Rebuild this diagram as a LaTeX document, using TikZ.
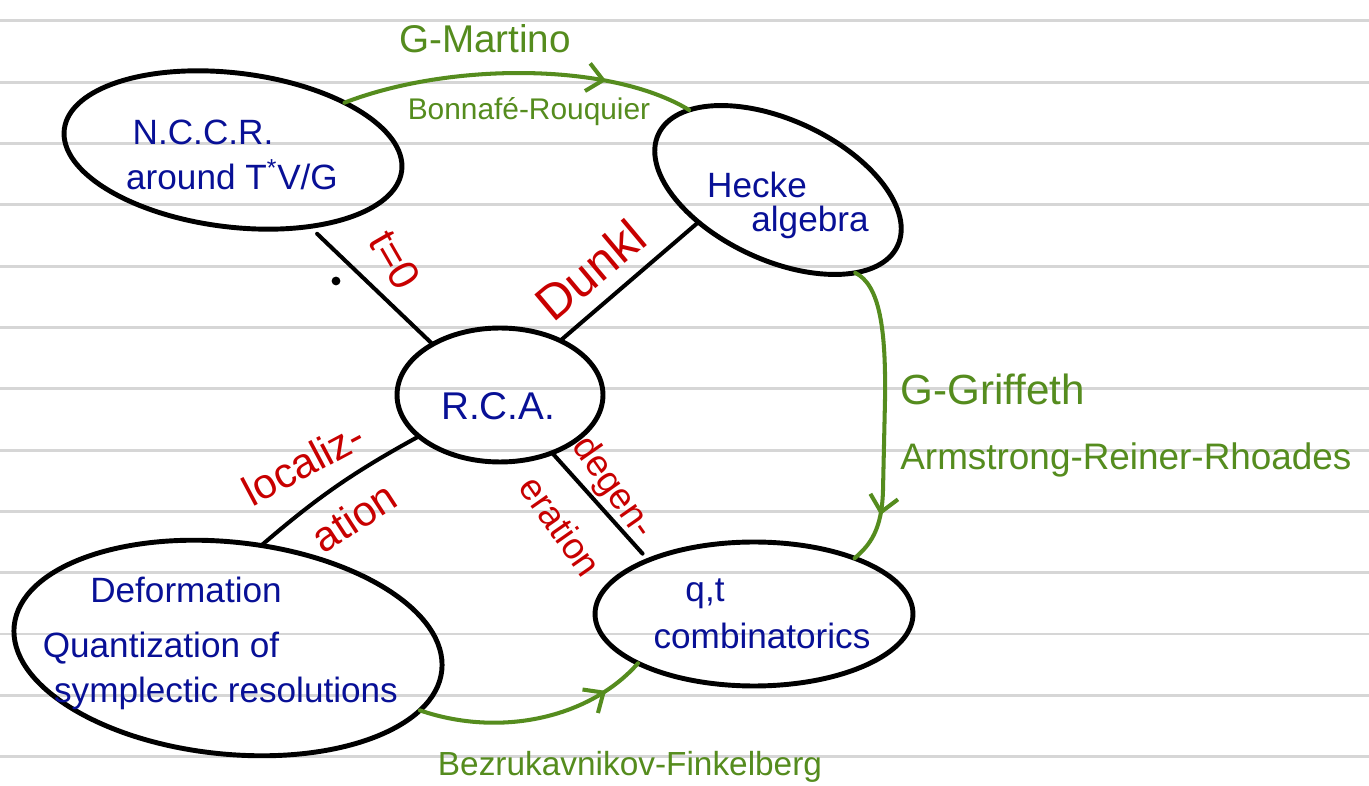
\documentclass[tikz,border=0pt]{standalone}
\usepackage{fontspec}
\setmainfont{Liberation Sans}
\usetikzlibrary{shapes.geometric,arrows.meta,decorations.markings}
\definecolor{ink}{RGB}{8,16,150}
\definecolor{redink}{RGB}{200,0,0}
\definecolor{greenink}{RGB}{85,140,30}
\definecolor{rulegray}{RGB}{214,214,214}
\begin{document}
\begin{tikzpicture}[x=0.02cm,y=-0.02cm,
  blob/.style={ellipse, draw=black, line width=2.8pt, inner sep=0pt, outer sep=0pt},
  bluet/.style={text=ink, font=\fontsize{20}{22}\selectfont, anchor=base, inner sep=0pt},
  greent/.style={text=greenink, font=\fontsize{20}{22}\selectfont, anchor=base, inner sep=0pt},
  redt/.style={text=redink, font=\fontsize{24}{26}\selectfont, inner sep=0pt},
  conn/.style={draw=black, line width=2.3pt, line cap=round},
  gconn/.style={draw=greenink, line width=2.3pt, line cap=round},
  midarrow/.style={postaction={decorate}, decoration={markings, mark=at position #1 with {\arrow{Straight Barb[length=9pt, width=16pt, line width=2.3pt, color=greenink]}}}},
]
\fill[white] (0,0) rectangle (1369,786);
\useasboundingbox (0,0) rectangle (1369,786);
\foreach \k in {0,...,12} \draw[rulegray, line width=1.7pt] (0,{21+61.3*\k}) -- (1369,{21+61.3*\k});

% ellipses
\node[blob, minimum width=6.8cm, minimum height=3.08cm, rotate=-7] (nccr) at (233,150) {};
\node[blob, minimum width=5.28cm, minimum height=2.8cm, rotate=-25] (hecke) at (778,190) {};
\node[blob, minimum width=4.12cm, minimum height=2.68cm] (rca) at (500,395) {};
\node[blob, minimum width=8.6cm, minimum height=4.24cm, rotate=-6] (def) at (228,648) {};
\node[blob, minimum width=6.36cm, minimum height=2.88cm] (qt) at (754,614) {};

% texts in ellipses
\node[bluet] (nccrA) at (203,145) {N.C.C.R.};
\node[bluet] (nccrB) at (232,190) {around T\textsuperscript{*}V/G};
\node[bluet] (heckeA) at (757,198) {Hecke};
\node[bluet] (heckeB) at (810,232) {algebra};
\node[bluet, font=\fontsize{22}{24}\selectfont] (rcaT) at (498,420) {R.C.A.};
\node[bluet] (defA) at (186,603) {Deformation};
\node[bluet] (defB) at (161,658) {Quantization of};
\node[bluet] (defC) at (226,703) {symplectic resolutions};
\node[bluet] (qtA) at (705,602) {q,t};
\node[bluet] (qtB) at (762,648) {combinatorics};

% black connectors
\draw[conn, shorten <=6pt] (nccr.-38) -- (rca.143);
\draw[conn] (hecke.-133) -- (rca.42);
\draw[conn] (rca.207) to[bend right=6] (def.78);
\draw[conn, shorten >=5pt] (rca.-48) -- (qt.153);
\fill (336,281) circle (2.5pt);

% red labels
\node[redt, rotate=-60] (t0) at (395,260) {t=0};
\node[redt, rotate=40, font=\fontsize{28}{30}\selectfont] (dunkl) at (590,270) {Dunkl};
\node[redt, rotate=28] (locA) at (303,463) {localiz-};
\node[redt, rotate=33] (locB) at (354,517) {ation};
\node[redt, rotate=-55, font=\fontsize{21}{23}\selectfont] (degA) at (612,488) {degen-};
\node[redt, rotate=-55, font=\fontsize{21}{23}\selectfont] (degB) at (561,526) {eration};

% green arrows
\draw[gconn, midarrow=0.75] (nccr.30) .. controls (450,62) and (610,62) .. (hecke.163);
\draw[gconn, midarrow=0.83] (hecke.-22) .. controls (880,285) and (886,330) .. (885,400) -- (883,490) .. controls (882,530) and (870,545) .. (qt.29);
\draw[gconn, midarrow=0.82] (def.-12) .. controls (500,738) and (590,718) .. (qt.-157);

% green labels
\node[greent, font=\fontsize{22}{24}\selectfont] (gm) at (485,53) {G-Martino};
\node[greent, font=\fontsize{17}{19}\selectfont] (br) at (529,120) {Bonnafé-Rouquier};
\node[greent, anchor=base west, font=\fontsize{24}{26}\selectfont] (gg) at (900,405) {G-Griffeth};
\node[greent, anchor=base west, font=\fontsize{21}{23}\selectfont] (arr) at (900,470) {Armstrong-Reiner-Rhoades};
\node[greent, font=\fontsize{19}{21}\selectfont] (bf) at (630,775) {Bezrukavnikov-Finkelberg};
\end{tikzpicture}
\end{document}
